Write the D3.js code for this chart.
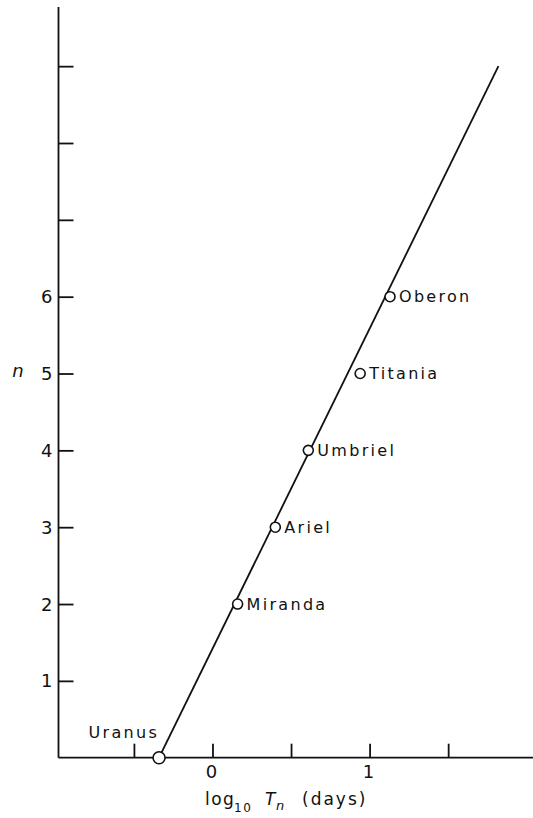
<!DOCTYPE html>
<html>
<head>
<meta charset="utf-8">
<script src="https://cdn.jsdelivr.net/npm/d3@7"></script>
<style>
  body { margin: 0; background: #fff; }
  svg { display: block; }
  text { font-family: "DejaVu Sans", sans-serif; fill: #111; }
</style>
</head>
<body>
<svg id="chart" width="533" height="818"></svg>
<script>
// satellites of Uranus: log10 of orbital period (days) vs n
const moons = ["Uranus", "Miranda", "Ariel", "Umbriel", "Titania", "Oberon"];
const nValues = [0, 2, 3, 4, 5, 6];
const logPeriods = [-0.34, 0.16, 0.40, 0.61, 0.94, 1.13];

// fitted straight line, given by its two ends
const fitN = [0, 9];
const fitLogT = [-0.34, 1.82];

const xTicks = [-0.5, 0, 0.5, 1, 1.5];
const xTickLabels = ["", "0", "", "1", ""];
const yTicks = [1, 2, 3, 4, 5, 6, 7, 8, 9];
const yTickLabels = ["1", "2", "3", "4", "5", "6", "", "", ""];

const svg = d3.select("#chart");

const x = d3.scaleLinear().domain([-0.98, 2.04]).range([58.5, 533]);
const y = d3.scaleLinear().domain([0, 9.77]).range([757.7, 7]);

// axes: plain lines with inward ticks
const xAxis = svg.append("g")
  .attr("transform", "translate(0," + y(0) + ")")
  .call(d3.axisTop(x).tickValues(xTicks).tickSize(14).tickFormat(""));
xAxis.select(".domain").attr("d", "M" + x.range()[0] + ",0H" + x.range()[1]);

const yAxis = svg.append("g")
  .attr("transform", "translate(" + x(-0.98) + ",0)")
  .call(d3.axisRight(y).tickValues(yTicks).tickSize(15).tickFormat(""));
yAxis.select(".domain").attr("d", "M0," + y.range()[1] + "V" + y.range()[0]);

svg.selectAll(".domain, .tick line")
  .attr("stroke", "#111")
  .attr("stroke-width", 1.8);

// tick labels
svg.append("g").selectAll("text")
  .data(xTicks)
  .join("text")
  .attr("x", d => x(d) - 1)
  .attr("y", y(0) + 20)
  .attr("text-anchor", "middle")
  .style("font-size", "18px")
  .text((d, i) => xTickLabels[i]);

svg.append("g").selectAll("text")
  .data(yTicks)
  .join("text")
  .attr("x", x(-0.98) - 6)
  .attr("y", d => y(d))
  .attr("dy", "0.36em")
  .attr("text-anchor", "end")
  .style("font-size", "18px")
  .text((d, i) => yTickLabels[i]);

// axis titles
svg.append("text")
  .attr("x", 18)
  .attr("y", y(5))
  .attr("dy", "0.2em")
  .attr("text-anchor", "middle")
  .style("font-size", "18px")
  .style("font-style", "italic")
  .text("n");

const xt = svg.append("text")
  .attr("x", 205)
  .attr("y", 805)
  .style("font-size", "17px")
  .style("letter-spacing", "1.5px");
xt.append("tspan").text("log");
xt.append("tspan").attr("x", 234).attr("dy", 7).style("font-size", "12px").text("10");
xt.append("tspan").attr("x", 265).attr("dy", -7).style("font-style", "italic").text("T");
xt.append("tspan").attr("x", 276).attr("dy", 5).style("font-style", "italic").style("font-size", "13px").text("n");
xt.append("tspan").attr("x", 302).attr("dy", -5).style("letter-spacing", "2px").text("(days)");

// fitted line
const fit = fitN.map((n, i) => ({ n: n, t: fitLogT[i] }));
svg.append("path")
  .datum(fit)
  .attr("fill", "none")
  .attr("stroke", "#111")
  .attr("stroke-width", 1.8)
  .attr("d", d3.line().x(d => x(d.t)).y(d => y(d.n)));

// points
const pts = moons.map((m, i) => ({ name: m, n: nValues[i], t: logPeriods[i] }));

svg.append("g").selectAll("circle")
  .data(pts)
  .join("circle")
  .attr("cx", d => x(d.t))
  .attr("cy", d => y(d.n))
  .attr("r", d => d.n === 0 ? 6 : 5)
  .attr("fill", "#fff")
  .attr("stroke", "#111")
  .attr("stroke-width", 1.6);

svg.append("g").selectAll("text")
  .data(pts)
  .join("text")
  .attr("x", d => d.n === 0 ? x(d.t) : x(d.t) + 9)
  .attr("y", d => d.n === 0 ? y(d.n) - 20 : y(d.n))
  .attr("dy", d => d.n === 0 ? 0 : "0.36em")
  .attr("text-anchor", d => d.n === 0 ? "end" : "start")
  .style("font-size", "16px")
  .style("letter-spacing", "2.3px")
  .text(d => d.name);
</script>
</body>
</html>
